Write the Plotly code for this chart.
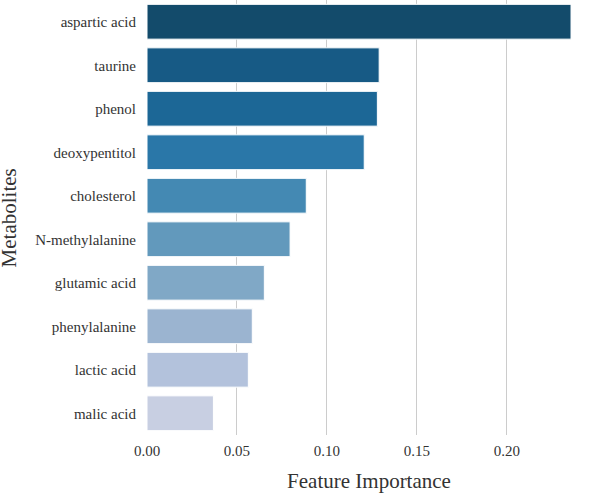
import plotly.graph_objects as go

metabolites = ["aspartic acid", "taurine", "phenol", "deoxypentitol", "cholesterol",
               "N-methylalanine", "glutamic acid", "phenylalanine", "lactic acid", "malic acid"]
importance = [0.2356, 0.129, 0.128, 0.1207, 0.0885, 0.0795, 0.0652, 0.0585, 0.0563, 0.0369]
bar_colors = ["#134B6B", "#175A85", "#1C6796", "#2A77A8", "#4489B3",
              "#6299BC", "#80A8C6", "#9BB4D0", "#B3C2DC", "#C8CFE2"]
x_ticks = [0.0, 0.05, 0.10, 0.15, 0.20]
x_tick_labels = ["0.00", "0.05", "0.10", "0.15", "0.20"]

FONT = "Liberation Serif"
INK = "#333333"

fig = go.Figure(go.Bar(
    x=importance, y=metabolites, orientation="h", width=0.8,
    marker=dict(color=bar_colors, line=dict(color="white", width=1)),
))
fig.update_layout(
    width=592, height=493, autosize=False,
    margin=dict(l=147, r=1, t=0, b=58, pad=0),
    paper_bgcolor="white", plot_bgcolor="white",
    font=dict(family=FONT, color=INK, size=15),
    showlegend=False,
)
fig.update_xaxes(
    range=[0, 0.2467], tickvals=x_ticks, ticktext=x_tick_labels, automargin=False,
    showgrid=True, gridcolor="#cccccc", gridwidth=1, zeroline=False, showline=False,
    ticks="", tickfont=dict(family=FONT, size=15, color=INK), ticklabelstandoff=5,
    title=dict(text="Feature Importance", font=dict(family=FONT, size=21, color=INK)),
)
fig.update_yaxes(
    categoryorder="array", categoryarray=metabolites, range=[9.5, -0.5], automargin=False,
    showgrid=False, zeroline=False, showline=False, ticks="", ticklen=0,
    tickfont=dict(family=FONT, size=15, color=INK), ticklabelstandoff=10,
)
fig.add_annotation(
    text="Metabolites", xref="paper", yref="paper", x=-0.311, y=0.5,
    xanchor="center", yanchor="middle", textangle=-90, showarrow=False,
    font=dict(family=FONT, size=21, color=INK),
)
fig.write_html("out.html", post_script="document.body.style.margin='0';",
               config={"displayModeBar": False})
